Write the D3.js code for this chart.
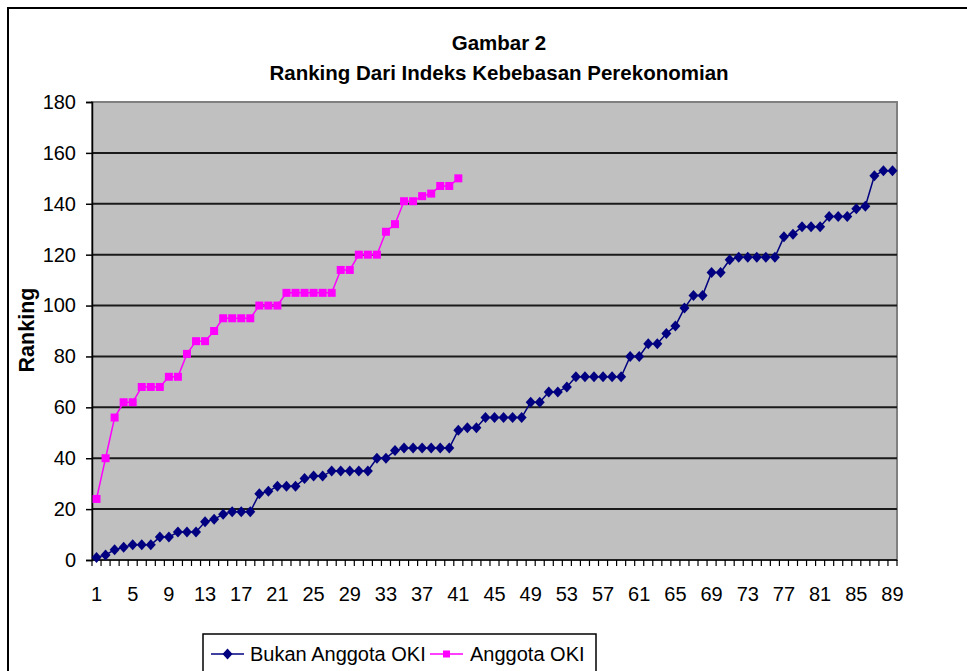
<!DOCTYPE html>
<html>
<head>
<meta charset="utf-8">
<script src="https://cdn.jsdelivr.net/npm/d3@7"></script>
<style>
  body { margin: 0; background: #fff; }
  text { font-family: Arial, "Liberation Sans", sans-serif; }
</style>
</head>
<body>
<div id="chart"></div>
<script>
// categories 1..89
var categories = d3.range(1, 90);
var xLabels = [1, 5, 9, 13, 17, 21, 25, 29, 33, 37, 41, 45, 49, 53, 57, 61, 65, 69, 73, 77, 81, 85, 89];
var yTicks = [0, 20, 40, 60, 80, 100, 120, 140, 160, 180];

// Bukan Anggota OKI
var bukanOKI = [1, 2, 4, 5, 6, 6, 6, 9, 9, 11, 11, 11, 15, 16, 18, 19, 19, 19, 26, 27,
  29, 29, 29, 32, 33, 33, 35, 35, 35, 35, 35, 40, 40, 43, 44, 44, 44, 44, 44, 44,
  51, 52, 52, 56, 56, 56, 56, 56, 62, 62, 66, 66, 68, 72, 72, 72, 72, 72, 72, 80,
  80, 85, 85, 89, 92, 99, 104, 104, 113, 113, 118, 119, 119, 119, 119, 119, 127, 128, 131, 131,
  131, 135, 135, 135, 138, 139, 151, 153, 153];

// Anggota OKI
var anggotaOKI = [24, 40, 56, 62, 62, 68, 68, 68, 72, 72, 81, 86, 86, 90, 95, 95, 95, 95, 100, 100,
  100, 105, 105, 105, 105, 105, 105, 114, 114, 120, 120, 120, 129, 132, 141, 141, 143, 144, 147, 147,
  150];

var svgWidth = 967;
var svgHeight = 671;

var plot = { left: 92, top: 102, right: 897, bottom: 560 };

var svg = d3.select("#chart")
  .append("svg")
  .attr("width", svgWidth)
  .attr("height", svgHeight);

// outer chart border
svg.append("rect")
  .attr("x", 8).attr("y", 8)
  .attr("width", 1000).attr("height", 700)
  .attr("fill", "#fff")
  .attr("stroke", "#000")
  .attr("stroke-width", 2);

var x = d3.scaleBand()
  .domain(categories)
  .range([plot.left, plot.right])
  .padding(0);

var y = d3.scaleLinear()
  .domain([0, 180])
  .range([plot.bottom, plot.top]);

var cx = d => x(d) + x.bandwidth() / 2;

// plot background
svg.append("rect")
  .attr("x", plot.left).attr("y", plot.top)
  .attr("width", plot.right - plot.left)
  .attr("height", plot.bottom - plot.top)
  .attr("fill", "#c0c0c0")
  .attr("stroke", "#808080")
  .attr("stroke-width", 2);

// gridlines
svg.append("g")
  .selectAll("line")
  .data(yTicks.filter(d => d > 0 && d < 180))
  .enter()
  .append("line")
  .attr("x1", plot.left).attr("x2", plot.right)
  .attr("y1", d => y(d)).attr("y2", d => y(d))
  .attr("stroke", "#1a1a1a")
  .attr("stroke-width", 2);

// y axis
var leftAxis = d3.axisLeft(y).tickValues(yTicks).tickSize(6).tickPadding(10);
var yAxis = svg.append("g")
  .attr("transform", `translate(${plot.left}, 0)`)
  .call(leftAxis);
yAxis.select(".domain").attr("stroke", "#000").attr("stroke-width", 1.5);
yAxis.selectAll(".tick line").attr("stroke", "#000").attr("stroke-width", 1.5);
yAxis.selectAll(".tick text")
  .attr("font-size", "20px")
  .attr("fill", "#000")
  .attr("font-family", "Arial, 'Liberation Sans', sans-serif");

// x axis: line + tick marks between categories
svg.append("line")
  .attr("x1", plot.left).attr("x2", plot.right)
  .attr("y1", plot.bottom).attr("y2", plot.bottom)
  .attr("stroke", "#000").attr("stroke-width", 1.5);

svg.append("g")
  .selectAll("line")
  .data(categories.concat([90]))
  .enter()
  .append("line")
  .attr("x1", d => d === 90 ? plot.right : x(d))
  .attr("x2", d => d === 90 ? plot.right : x(d))
  .attr("y1", plot.bottom).attr("y2", plot.bottom + 6)
  .attr("stroke", "#000").attr("stroke-width", 1.2);

svg.append("g")
  .selectAll("text")
  .data(xLabels)
  .enter()
  .append("text")
  .attr("x", d => cx(d))
  .attr("y", 601)
  .attr("text-anchor", "middle")
  .attr("font-size", "20px")
  .text(d => d);

// title
svg.append("text")
  .attr("x", 499).attr("y", 50)
  .attr("text-anchor", "middle")
  .attr("font-size", "20.5px")
  .attr("font-weight", "bold")
  .text("Gambar 2");

svg.append("text")
  .attr("x", 499).attr("y", 80)
  .attr("text-anchor", "middle")
  .attr("font-size", "20.5px")
  .attr("font-weight", "bold")
  .text("Ranking Dari Indeks Kebebasan Perekonomian");

// y axis label
svg.append("text")
  .attr("transform", "rotate(-90)")
  .attr("x", -330).attr("y", 34)
  .attr("text-anchor", "middle")
  .attr("font-size", "21.5px")
  .attr("font-weight", "bold")
  .text("Ranking");

var diamond = "M0,-5.5L5,0L0,5.5L-5,0Z";

// lines
var line = d3.line()
  .x((d, i) => cx(categories[i]))
  .y(d => y(d));

svg.append("path")
  .datum(bukanOKI)
  .attr("d", line)
  .attr("fill", "none")
  .attr("stroke", "#000080")
  .attr("stroke-width", 1.5);

svg.append("path")
  .datum(anggotaOKI)
  .attr("d", line)
  .attr("fill", "none")
  .attr("stroke", "#ff00ff")
  .attr("stroke-width", 1.5);

// markers
svg.append("g")
  .selectAll("path")
  .data(bukanOKI)
  .enter()
  .append("path")
  .attr("d", diamond)
  .attr("transform", (d, i) => `translate(${cx(categories[i])}, ${y(d)})`)
  .attr("fill", "#000080");

svg.append("g")
  .selectAll("rect")
  .data(anggotaOKI)
  .enter()
  .append("rect")
  .attr("x", (d, i) => cx(categories[i]) - 4)
  .attr("y", d => y(d) - 4)
  .attr("width", 8).attr("height", 8)
  .attr("fill", "#ff00ff");

// legend
var legend = svg.append("g");
legend.append("rect")
  .attr("x", 203).attr("y", 634)
  .attr("width", 393).attr("height", 60)
  .attr("fill", "#fff")
  .attr("stroke", "#000")
  .attr("stroke-width", 1.5);

legend.append("line")
  .attr("x1", 211).attr("x2", 244).attr("y1", 654).attr("y2", 654)
  .attr("stroke", "#000080").attr("stroke-width", 1.5);
legend.append("path")
  .attr("d", diamond)
  .attr("transform", "translate(227.5, 654)")
  .attr("fill", "#000080");
legend.append("text")
  .attr("x", 250).attr("y", 661)
  .attr("font-size", "20px")
  .text("Bukan Anggota OKI");

legend.append("line")
  .attr("x1", 430).attr("x2", 463).attr("y1", 654).attr("y2", 654)
  .attr("stroke", "#ff00ff").attr("stroke-width", 1.5);
legend.append("rect")
  .attr("x", 443).attr("y", 650.5).attr("width", 7).attr("height", 7)
  .attr("fill", "#ff00ff");
legend.append("text")
  .attr("x", 470).attr("y", 661)
  .attr("font-size", "20px")
  .text("Anggota OKI");
</script>
</body>
</html>
